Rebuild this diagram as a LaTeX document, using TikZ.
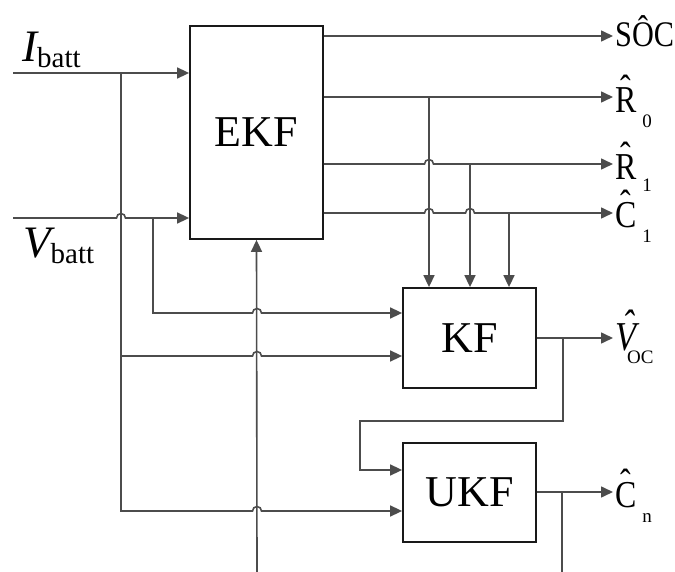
\documentclass[tikz,border=0pt]{standalone}
\usepackage{fontspec}
\setmainfont{Liberation Serif}
\newfontfamily\narrowrm[FakeStretch=0.84]{Liberation Serif}
\usetikzlibrary{arrows.meta}
\newcommand{\battlbl}[1]{{\fontsize{45}{50}\selectfont\itshape #1}\raisebox{-6pt}{\fontsize{29}{32}\selectfont batt}}
\newcommand{\hatover}[3]{\ooalign{#3\cr\hidewidth\kern#1\raisebox{#2}{ˆ}\hidewidth\cr}}
\newcommand{\subsc}[2]{\raisebox{#1}{\fontsize{19}{20}\selectfont\rmfamily\upshape #2}}
\tikzset{
  >={Triangle[length=12pt,width=11pt]},
  blk/.style={draw=black!90,line width=1.8pt,minimum width=133pt,inner sep=0pt,
    font=\fontsize{44}{48}\selectfont},
  sig/.style={draw=black!70,line width=1.6pt},
  hopover/.style={insert path={arc[start angle=180,end angle=0,radius=4.5pt]}},
  inlbl/.style={anchor=base west,inner sep=0pt},
  outlbl/.style={anchor=base west,inner sep=0pt,font=\narrowrm\fontsize{38}{40}\selectfont},
}
\begin{document}
\begin{tikzpicture}[x=1pt,y=-1pt]
  \useasboundingbox (0,0) rectangle (675,572);
  % filter blocks
  \node[blk,minimum height=213pt] (EKF) at (256.5,132.5) {EKF};
  \node[blk,minimum height=100pt] (KF) at (469.5,338) {KF};
  \node[blk,minimum height=99pt] (UKF) at (469.5,492.5) {UKF};
  % inputs
  \coordinate (iin) at (13,73);
  \coordinate (vin) at (13,218);
  \coordinate (fbin) at (257,572);
  \node[inlbl] (li) at (22,62) {\battlbl{I}};
  \node[inlbl] (lv) at (23,258) {\battlbl{V}};
  \draw[sig,->] (iin) -- (EKF.west |- iin);
  \draw[sig,->] (vin) -- (116.5,218) [hopover] -- (EKF.west |- vin);
  \draw[sig,->] (121,73) -- (121,511) -- (252.5,511) [hopover] -- (UKF.west |- 0,511);
  \draw[sig,->] (121,356) -- (252.5,356) [hopover] -- (KF.west |- 0,356);
  \draw[sig,->] (153,218) -- (153,313) -- (252.5,313) [hopover] -- (KF.west |- 0,313);
  \draw[sig,->] (fbin) -- (EKF.south);
  % EKF outputs
  \coordinate (socend) at (613,36);
  \coordinate (r0end) at (613,97);
  \coordinate (r1end) at (613,164);
  \coordinate (c1end) at (613,213);
  \draw[sig,->] (EKF.east |- socend) -- (socend);
  \draw[sig,->] (EKF.east |- r0end) -- (r0end);
  \draw[sig,->] (EKF.east |- r1end) -- (424.5,164) [hopover] -- (r1end);
  \draw[sig,->] (EKF.east |- c1end) -- (424.5,213) [hopover] -- (465.5,213) [hopover] -- (c1end);
  \draw[sig,->] (429,97) -- (KF.north -| 429,0);
  \draw[sig,->] (470,164) -- (KF.north -| 470,0);
  \draw[sig,->] (509,213) -- (KF.north -| 509,0);
  % KF and UKF outputs
  \coordinate (vocend) at (613,338);
  \coordinate (cnend) at (613,492);
  \draw[sig,->] (KF.east) -- (vocend);
  \draw[sig,->] (563,338) -- (563,421) -- (360,421) -- (360,470) -- (UKF.west |- 0,470);
  \draw[sig,->] (UKF.east |- cnend) -- (cnend);
  \draw[sig] (562,492) -- (562,572);
  % output labels
  \node[outlbl] (lsoc) at (615,47) {\fontsize{36}{40}\selectfont SÔC};
  \node[outlbl] (lr0) at (615,113) {\hatover{0pt}{0.3em}{R}\hspace{6pt}\subsc{-15pt}{0}};
  \node[outlbl] (lr1) at (615,180) {\hatover{0pt}{0.3em}{R}\hspace{6pt}\subsc{-12pt}{1}};
  \node[outlbl] (lc1) at (615,228) {\hatover{0pt}{0.3em}{C}\hspace{6pt}\subsc{-15pt}{1}};
  \node[outlbl] (lvoc) at (615,350) {\fontsize{41}{44}\selectfont\itshape\hatover{0.12em}{0.28em}{V}\hspace{-9pt}\subsc{-13pt}{OC}};
  \node[outlbl] (lcn) at (615,507) {\hatover{0pt}{0.3em}{C}\hspace{6pt}\subsc{-15pt}{n}};
\end{tikzpicture}
\end{document}
